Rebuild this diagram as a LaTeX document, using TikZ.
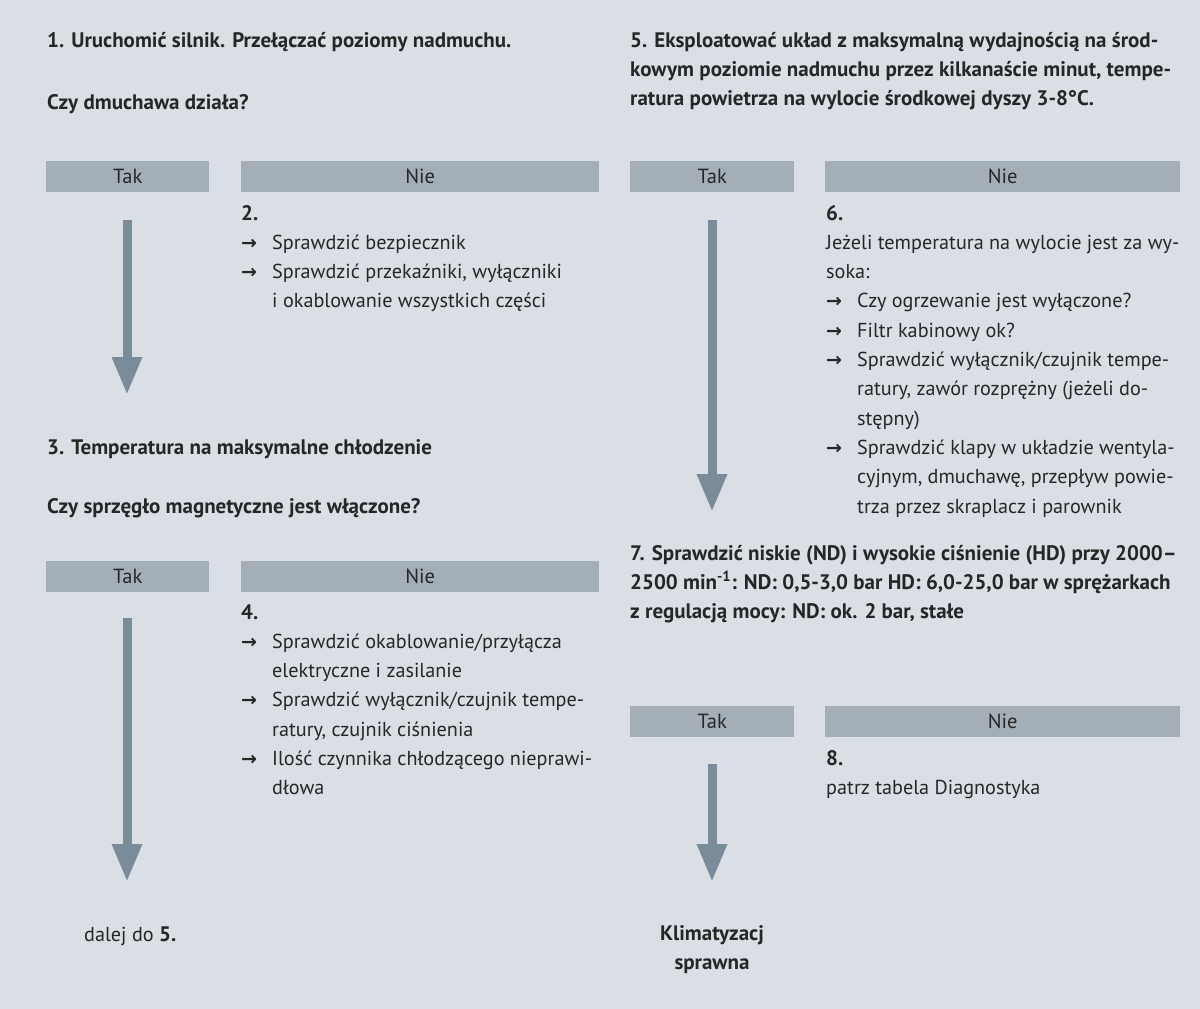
\documentclass[tikz,border=0pt]{standalone}
\usepackage{fontspec}
\setmainfont{PT Sans}
\newfontfamily\arrowfont{DejaVu Sans}
\usetikzlibrary{arrows.meta}
\definecolor{bgc}{HTML}{D9DFE5}
\definecolor{barc}{HTML}{A3AEB7}
\definecolor{arrc}{HTML}{7A8C9A}
\definecolor{ink}{HTML}{262626}
\newcommand\myarr{\makebox[31pt][l]{\arrowfont\bfseries\fontsize{19}{19}\selectfont →}}
\tikzset{
  txt/.style={anchor=base west, inner sep=0pt, text=ink, font=\fontsize{20.2}{29.3}\selectfont},
  headtxt/.style={txt, font=\bfseries\fontsize{21}{29.3}\selectfont},
  barbox/.style={fill=barc, draw=none, inner sep=0pt, anchor=north west, minimum height=31pt,
    text=ink, font=\fontsize{20.5}{20.5}\selectfont},
  flowarrow/.style={draw=arrc, line width=9pt, -{Triangle[width=28pt,length=38pt]}},
}
\begin{document}
\begin{tikzpicture}[x=1pt,y=-1pt]
\fill[bgc] (0,0) rectangle (1200,1009);
\useasboundingbox (0,0) rectangle (1200,1009);

% ---------- left column ----------
\node[headtxt] (h1) at (47,47) {1. Uruchomić silnik. Przełączać poziomy nadmuchu.};
\node[headtxt] (q1) at (47,109) {Czy dmuchawa działa?};
\node[barbox, minimum width=163pt] (tak1) at (46,161) {Tak};
\node[barbox, minimum width=358pt] (nie1) at (241,161) {Nie};
\node[txt] (n2) at (241,220) {\begin{tabular}[t]{@{}l@{}l@{}}
\multicolumn{2}{@{}l@{}}{\bfseries\fontsize{21}{29.3}\selectfont 2.}\\
\myarr & Sprawdzić bezpiecznik\\
\myarr & Sprawdzić przekaźniki, wyłączniki\\
 & i okablowanie wszystkich części
\end{tabular}};

\node[headtxt] (h3) at (47,454) {3. Temperatura na maksymalne chłodzenie};
\node[headtxt] (q3) at (47,513) {Czy sprzęgło magnetyczne jest włączone?};
\node[barbox, minimum width=163pt] (tak2) at (46,561) {Tak};
\node[barbox, minimum width=358pt] (nie2) at (241,561) {Nie};
\node[txt] (n4) at (241,619) {\begin{tabular}[t]{@{}l@{}l@{}}
\multicolumn{2}{@{}l@{}}{\bfseries\fontsize{21}{29.3}\selectfont 4.}\\
\myarr & Sprawdzić okablowanie/przyłącza\\
 & elektryczne i zasilanie\\
\myarr & Sprawdzić wyłącznik/czujnik tempe-\\
 & ratury, czujnik ciśnienia\\
\myarr & Ilość czynnika chłodzącego nieprawi-\\
 & dłowa
\end{tabular}};
\node[txt] (dalej) at (84,941) {dalej do {\bfseries\fontsize{21}{29.3}\selectfont 5.}};

\coordinate (la1) at (127,220);
\coordinate (lb1) at (127,395);
\coordinate (la2) at (127,618);
\coordinate (lb2) at (127,882);
\draw[flowarrow] (la1) -- (lb1);
\draw[flowarrow] (la2) -- (lb2);

% ---------- right column ----------
\node[headtxt] (h5) at (630,47) {\begin{tabular}[t]{@{}l@{}}
5. Eksploatować układ z maksymalną wydajnością na środ-\\
kowym poziomie nadmuchu przez kilkanaście minut, tempe-\\
ratura powietrza na wylocie środkowej dyszy 3-8°C.
\end{tabular}};
\node[barbox, minimum width=164pt] (tak3) at (630,161) {Tak};
\node[barbox, minimum width=355pt] (nie3) at (825,161) {Nie};
\node[txt] (n6) at (826,220) {\begin{tabular}[t]{@{}l@{}l@{}}
\multicolumn{2}{@{}l@{}}{\bfseries\fontsize{21}{29.3}\selectfont 6.}\\
\multicolumn{2}{@{}l@{}}{Jeżeli temperatura na wylocie jest za wy-}\\
\multicolumn{2}{@{}l@{}}{soka:}\\
\myarr & Czy ogrzewanie jest wyłączone?\\
\myarr & Filtr kabinowy ok?\\
\myarr & Sprawdzić wyłącznik/czujnik tempe-\\
 & ratury, zawór rozprężny (jeżeli do-\\
 & stępny)\\
\myarr & Sprawdzić klapy w układzie wentyla-\\
 & cyjnym, dmuchawę, przepływ powie-\\
 & trza przez skraplacz i parownik
\end{tabular}};

\node[headtxt] (h7) at (630,560) {\begin{tabular}[t]{@{}l@{}}
7. Sprawdzić niskie (ND) i wysokie ciśnienie (HD) przy 2000–\\
2500 min\textsuperscript{-1}: ND: 0,5-3,0 bar HD: 6,0-25,0 bar w sprężarkach\\
z regulacją mocy: ND: ok. 2 bar, stałe
\end{tabular}};
\node[barbox, minimum width=164pt] (tak4) at (630,706) {Tak};
\node[barbox, minimum width=355pt] (nie4) at (825,706) {Nie};
\node[txt] (n8) at (826,765) {\begin{tabular}[t]{@{}l@{}}
{\bfseries\fontsize{21}{29.3}\selectfont 8.}\\
patrz tabela Diagnostyka
\end{tabular}};
\node[headtxt, anchor=base] (klim) at (712,940) {\begin{tabular}[t]{@{}c@{}}
Klimatyzacj\\
sprawna
\end{tabular}};

\coordinate (ra1) at (712,220);
\coordinate (rb1) at (712,512);
\coordinate (ra2) at (712,764);
\coordinate (rb2) at (712,882);
\draw[flowarrow] (ra1) -- (rb1);
\draw[flowarrow] (ra2) -- (rb2);
\end{tikzpicture}
\end{document}
